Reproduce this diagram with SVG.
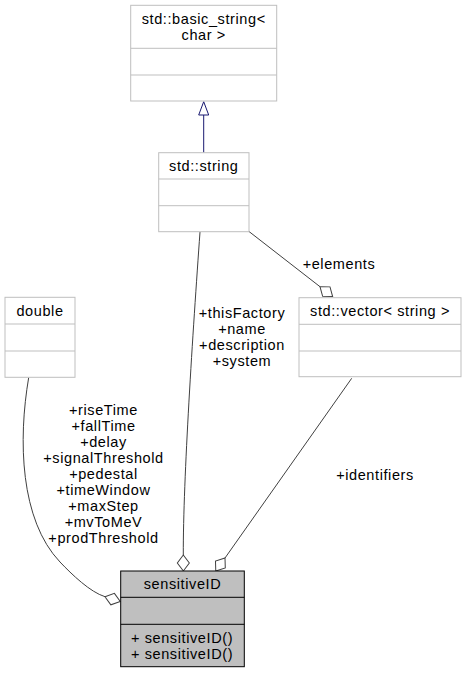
<svg xmlns="http://www.w3.org/2000/svg" width="466" height="673" viewBox="0 0 466 673">
<defs>
<style>
text{font-family:"Liberation Sans",Arial,Helvetica,sans-serif;font-size:14.5px;letter-spacing:0.6px;fill:#000}
.c{text-anchor:middle}
.box{fill:#fff;stroke:#bfbfbf;stroke-width:1}
.sep{stroke:#bfbfbf;stroke-width:1}
.main{fill:#bfbfbf;stroke:#000;stroke-width:1}
.msep{stroke:#000;stroke-width:1}
.edge{fill:none;stroke:#404040;stroke-width:1;marker-end:url(#odiamond)}
.inh{fill:none;stroke:#191970;stroke-width:1}
</style>
<marker id="odiamond" markerUnits="userSpaceOnUse" markerWidth="20" markerHeight="16" refX="0" refY="8" viewBox="0 0 20 16" orient="auto" overflow="visible">
<path d="M0,8 L8,2 L16,8 L8,14 Z" fill="#fff" stroke="#404040" stroke-width="1"/>
</marker>
</defs>

<g id="connectors">
<path class="inh" d="M203.7,152.7 L203.7,115"/>
<polygon points="203.7,101.7 198.7,115 208.7,115" fill="#fff" stroke="#191970" stroke-width="1"/>
<path class="edge" d="M249,231.5 L320,286.7"/>
<path class="edge" d="M200,232 C193,330 183,480 183.3,555"/>
<path class="edge" d="M351.7,378.3 L225,558"/>
<path class="edge" d="M28.7,377.5 C18,440 20,520 60,562 C72,574.6 90,592 105,596.7"/>
<text x="339" y="269" class="c">+elements</text>
<text x="242" y="318" class="c">+thisFactory</text>
<text x="242" y="334" class="c">+name</text>
<text x="242" y="350" class="c">+description</text>
<text x="242" y="366" class="c">+system</text>
<text x="375" y="480" class="c">+identifiers</text>
<text x="103.5" y="415" class="c">+riseTime</text>
<text x="103.5" y="431" class="c">+fallTime</text>
<text x="103.5" y="447" class="c">+delay</text>
<text x="103.5" y="463" class="c">+signalThreshold</text>
<text x="103.5" y="479" class="c">+pedestal</text>
<text x="103.5" y="495" class="c">+timeWindow</text>
<text x="103.5" y="511" class="c">+maxStep</text>
<text x="103.5" y="527" class="c">+mvToMeV</text>
<text x="103.5" y="543" class="c">+prodThreshold</text>
</g>

<g id="basic_string">
<rect class="box" x="130.7" y="5.3" width="146" height="95.7"/>
<line class="sep" x1="130.7" y1="48.3" x2="276.7" y2="48.3"/>
<line class="sep" x1="130.7" y1="75" x2="276.7" y2="75"/>
<text x="203.7" y="23.5" class="c">std::basic_string&lt;</text>
<text x="203.7" y="39.5" class="c">char &gt;</text>
</g>

<g id="std_string">
<rect class="box" x="158.7" y="152.7" width="90.3" height="79"/>
<line class="sep" x1="158.7" y1="179" x2="249" y2="179"/>
<line class="sep" x1="158.7" y1="205.7" x2="249" y2="205.7"/>
<text x="203.8" y="170.5" class="c">std::string</text>
</g>

<g id="double">
<rect class="box" x="5" y="297.3" width="70" height="80"/>
<line class="sep" x1="5" y1="324" x2="75" y2="324"/>
<line class="sep" x1="5" y1="351" x2="75" y2="351"/>
<text x="40" y="315.5" class="c">double</text>
</g>

<g id="vector_string">
<rect class="box" x="299" y="297.7" width="162" height="79"/>
<line class="sep" x1="299" y1="324.3" x2="461" y2="324.3"/>
<line class="sep" x1="299" y1="351" x2="461" y2="351"/>
<text x="380" y="316" class="c">std::vector&lt; string &gt;</text>
</g>

<g id="sensitiveID">
<rect class="main" x="120.7" y="571" width="123.6" height="95.7"/>
<line class="msep" x1="120.7" y1="597.3" x2="244.3" y2="597.3"/>
<line class="msep" x1="120.7" y1="624.3" x2="244.3" y2="624.3"/>
<text x="182.5" y="589.3" class="c">sensitiveID</text>
<text x="131" y="643">+ sensitiveID()</text>
<text x="131" y="659">+ sensitiveID()</text>
</g>
</svg>
